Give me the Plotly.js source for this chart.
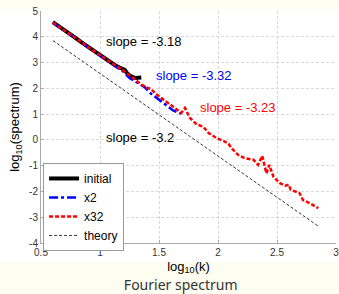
<!DOCTYPE html>
<html>
<head>
<meta charset="utf-8">
<script src="https://cdn.plot.ly/plotly-3.0.1.min.js"></script>
<style>
html,body{margin:0;padding:0;background:#fdfdf1;}
#chart{width:339px;height:294px;background:linear-gradient(to bottom,#fdfdf1 0px,#fdfdf1 9px,#ffffff 9px,#ffffff 262px,#fdfdf1 262px,#fdfdf1 294px);}
#diag{position:absolute;left:0;top:0;font:6px monospace;color:#c0c;white-space:pre;z-index:10;}
</style>
</head>
<body>
<div id="chart"></div>
<div id="diag"></div>
<script>
// log10(k) and log10(spectrum) values
const initialX = [0.60, 0.70, 0.78, 0.85, 0.90, 0.95, 1.00, 1.04, 1.08, 1.11, 1.14, 1.17, 1.19, 1.21, 1.23, 1.26, 1.30, 1.35];
const initialY = [4.57, 4.27, 4.00, 3.76, 3.60, 3.43, 3.28, 3.15, 3.03, 2.94, 2.86, 2.80, 2.78, 2.72, 2.58, 2.47, 2.40, 2.42];

const x2X = [0.60, 0.70, 0.80, 0.90, 1.00, 1.10, 1.20, 1.25, 1.30, 1.35, 1.38, 1.42, 1.46, 1.50, 1.54, 1.58, 1.62, 1.66, 1.69];
const x2Y = [4.55, 4.25, 3.93, 3.59, 3.27, 2.96, 2.64, 2.40, 2.25, 2.12, 2.04, 1.84, 1.70, 1.55, 1.40, 1.26, 1.14, 1.06, 1.02];

const x32X = [0.60, 0.70, 0.80, 0.90, 1.00, 1.10, 1.20, 1.25, 1.30, 1.35, 1.40, 1.43, 1.47, 1.52, 1.57, 1.62, 1.66, 1.69, 1.72, 1.76, 1.82, 1.875, 1.92, 1.99, 2.05, 2.09, 2.11, 2.17, 2.22, 2.26, 2.30, 2.34, 2.375, 2.41, 2.435, 2.47, 2.525, 2.57, 2.60, 2.615, 2.65, 2.69, 2.72, 2.78, 2.85];
const x32Y = [4.55, 4.25, 3.93, 3.60, 3.28, 2.98, 2.68, 2.52, 2.33, 2.15, 2.02, 1.98, 1.80, 1.62, 1.45, 1.28, 1.15, 1.05, 1.24, 0.86, 0.60, 0.51, 0.27, 0.06, -0.05, -0.15, -0.30, -0.58, -0.70, -0.74, -0.77, -0.97, -0.62, -1.30, -0.97, -1.43, -1.68, -1.78, -1.74, -1.93, -2.00, -2.06, -2.33, -2.46, -2.65];

const theoryX = [0.602, 2.857];
const theoryY = [3.85, -3.37];

const xTickVals = [0.5, 1, 1.5, 2, 2.5, 3];
const xTickText = ["0.5", "1", "1.5", "2", "2.5", "3"];
const yTickVals = [-4, -3, -2, -1, 0, 1, 2, 3, 4, 5];
const yTickText = ["-4", "-3", "-2", "-1", "0", "1", "2", "3", "4", "5"];

const slopeLabels = ["slope = -3.18", "slope = -3.32", "slope = -3.23", "slope = -3.2"];
const slopeX = [1.373, 1.80, 2.17, 1.34];
const slopeY = [3.81, 2.48, 1.26, 0.085];
const slopeColors = ["#000000", "#0000ff", "#ff0000", "#000000"];

const FONT = "Liberation Sans, Arial, sans-serif";

const traces = [
  {x: initialX, y: initialY, name: "initial", mode: "lines", line: {color: "#000000", width: 4}},
  {x: x2X, y: x2Y, name: "x2", mode: "lines", line: {color: "#0000ff", width: 2.5, dash: "dashdot"}},
  {x: x32X, y: x32Y, name: "x32", mode: "lines", line: {color: "#ff0000", width: 2.5, dash: "4px,2px"}},
  {x: theoryX, y: theoryY, name: "theory", mode: "lines", line: {color: "#000000", width: 0.8, dash: "3px,2px"}}
];

const annotations = slopeLabels.map((t, i) => ({
  x: slopeX[i], y: slopeY[i], xref: "x", yref: "y", text: t, showarrow: false,
  font: {family: FONT, size: 13, color: slopeColors[i]}, xanchor: "center", yanchor: "middle"
}));

const axisCommon = {
  showgrid: true, gridcolor: "#d9d9d9", griddash: "3px,2px", gridwidth: 1,
  zeroline: false, showline: true, linecolor: "#aaaaaa", linewidth: 1,
  ticks: "inside", ticklen: 3, tickcolor: "#aaaaaa",
  tickfont: {family: FONT, size: 10, color: "#333333"}, tickmode: "array",
  ticklabeloverflow: "allow"
};

const layout = {
  width: 339, height: 294,
  margin: {l: 41, r: 3, t: 11, b: 51},
  paper_bgcolor: "rgba(0,0,0,0)", plot_bgcolor: "#ffffff",
  title: {text: "Fourier spectrum", x: 0.533, xanchor: "center", xref: "container",
          y: 0.03, yanchor: "middle", yref: "container",
          font: {family: "Noto Sans, sans-serif", size: 14, color: "#333333"}},
  showlegend: true,
  legend: {x: 0.007, y: 0.345, xanchor: "left", yanchor: "top", bgcolor: "#ffffff",
           bordercolor: "#999999", borderwidth: 1, font: {family: FONT, size: 12, color: "#000"},
           itemwidth: 30, tracegroupgap: 0},
  xaxis: Object.assign({}, axisCommon, {range: [0.5, 3], tickvals: xTickVals, ticktext: xTickText,
    title: {text: "log<sub>10</sub>(k)", font: {family: FONT, size: 13, color: "#000"}, standoff: 4}}),
  yaxis: Object.assign({}, axisCommon, {range: [-4, 5], tickvals: yTickVals, ticktext: yTickText,
    title: {text: "log<sub>10</sub>(spectrum)", font: {family: FONT, size: 13, color: "#000"}, standoff: 6}}),
  annotations: annotations
};

Plotly.newPlot("chart", traces, layout, {displayModeBar: false, staticPlot: true}).then(() => {
  // diagnostic only shown if an x tick label is hidden or covered
  const st = document.createElement('style');
  st.textContent = '#chart svg *{pointer-events:visiblePainted !important}';
  document.head.appendChild(st);
  const msgs = [];
  document.querySelectorAll('#chart g.xtick text').forEach(t => {
    const r = t.getBoundingClientRect();
    const cs = getComputedStyle(t);
    if (r.width === 0) { msgs.push(t.textContent + ' w0 d=' + cs.display + ' o=' + cs.opacity + ' f=' + cs.fill); return; }
    const els = document.elementsFromPoint(r.left + r.width / 2, r.top + r.height / 2)
      .filter(e => !['HTML','BODY','DIV'].includes(e.tagName) && !(e.tagName === 'svg'));
    const top = els[0];
    if (top !== t && !(top && t.contains(top))) {
      msgs.push(t.textContent + ' ' + els.slice(0, 3).map(e => e.tagName + '.' + (e.getAttribute('class') || '') + '<' + (e.parentNode.getAttribute && e.parentNode.getAttribute('class'))).join(' '));
    } else if (cs.fill === 'rgba(0, 0, 0, 0)' || cs.opacity === '0' || cs.visibility === 'hidden') {
      msgs.push(t.textContent + ' inv f=' + cs.fill + ' o=' + cs.opacity);
    }
  });
  st.remove();
  if (msgs.length) document.getElementById('diag').textContent = msgs.join('\n');
});
</script>
</body>
</html>
